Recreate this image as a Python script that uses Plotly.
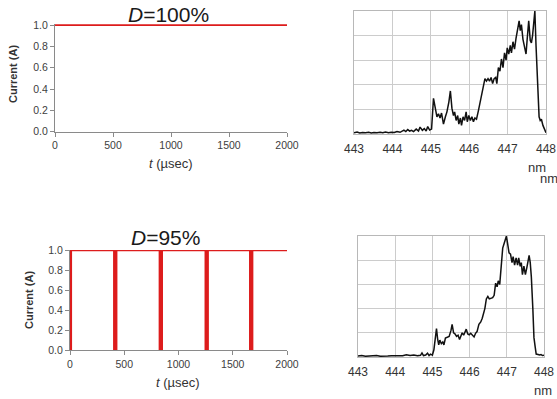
import plotly.graph_objects as go

W, H = 557, 399

# ---------------- data ----------------
# D = 100 % : constant current
t_full = [0, 2000]
i_full = [1.0, 1.0]

# D = 95 % : current switched off in short windows (µs)
off_start = [0, 408, 828, 1251, 1661]
off_end = [8, 426, 846, 1269, 1679]

# Spectra (nm, arbitrary intensity on 0..5 grid)
wl_top = [443.00, 443.08, 443.15, 443.22, 443.30, 443.38, 443.45, 443.52, 443.60, 443.68,
          443.75, 443.82, 443.90, 443.97, 444.05, 444.12, 444.20, 444.25, 444.30, 444.35,
          444.40, 444.45, 444.50, 444.55, 444.62, 444.68, 444.72, 444.78, 444.83, 444.88,
          444.92, 444.97, 445.02, 445.07, 445.12, 445.16, 445.20, 445.24, 445.28, 445.33,
          445.38, 445.42, 445.47, 445.51, 445.55, 445.59, 445.62, 445.66, 445.70, 445.73,
          445.77, 445.80, 445.84, 445.88, 445.92, 445.95, 445.99, 446.03, 446.07, 446.11,
          446.15, 446.19, 446.24, 446.30, 446.36, 446.41, 446.45, 446.49, 446.53, 446.57,
          446.61, 446.65, 446.69, 446.72, 446.76, 446.80, 446.84, 446.88, 446.92, 446.96,
          446.99, 447.03, 447.07, 447.10, 447.14, 447.18, 447.22, 447.26, 447.30, 447.33,
          447.36, 447.40, 447.44, 447.48, 447.51, 447.55, 447.59, 447.62, 447.65, 447.68,
          447.71, 447.74, 447.78, 447.82, 447.85, 447.88, 447.92, 447.96, 448.00]
int_top = [0.05, 0.08, 0.04, 0.06, 0.05, 0.07, 0.04, 0.06, 0.05, 0.07,
           0.05, 0.08, 0.05, 0.07, 0.06, 0.10, 0.07, 0.12, 0.16, 0.10,
           0.18, 0.12, 0.15, 0.10, 0.20, 0.12, 0.28, 0.15, 0.22, 0.12,
           0.30, 0.16, 0.20, 1.45, 0.95, 0.70, 0.82, 0.65, 0.85, 0.40,
           0.70, 0.90, 1.30, 1.75, 1.05, 0.75, 0.90, 0.55, 0.75, 0.40,
           0.65, 0.35, 0.70, 0.55, 0.90, 0.50, 0.75, 0.55, 0.70, 0.50,
           0.65, 0.60, 0.95, 1.40, 1.85, 2.25, 2.15, 2.25, 2.15, 2.30,
           2.05, 2.25, 2.30, 2.05, 2.70, 2.55, 3.05, 2.70, 3.30, 3.00,
           3.50, 3.25, 3.60, 3.30, 3.75, 3.45, 3.90, 4.30, 4.60, 4.20,
           4.45, 3.85, 3.50, 3.25, 3.85, 4.60, 3.80, 3.70, 4.00, 4.50,
           5.00, 3.60, 1.80, 0.70, 0.55, 0.60, 0.35, 0.20, 0.05]

wl_bot = [443.00, 443.10, 443.20, 443.30, 443.40, 443.50, 443.60, 443.70, 443.80, 443.90,
          444.00, 444.10, 444.20, 444.30, 444.40, 444.50, 444.60, 444.68, 444.72, 444.76,
          444.82, 444.87, 444.91, 444.95, 445.00, 445.04, 445.08, 445.11, 445.14, 445.17,
          445.20, 445.24, 445.28, 445.31, 445.35, 445.40, 445.45, 445.50, 445.53, 445.57,
          445.61, 445.65, 445.69, 445.73, 445.77, 445.80, 445.84, 445.88, 445.91, 445.95,
          445.99, 446.03, 446.07, 446.12, 446.16, 446.20, 446.25, 446.30, 446.34, 446.38,
          446.41, 446.45, 446.49, 446.53, 446.58, 446.62, 446.66, 446.70, 446.74, 446.77,
          446.81, 446.85, 446.89, 446.93, 446.97, 446.99, 447.03, 447.06, 447.10, 447.14,
          447.17, 447.21, 447.25, 447.29, 447.32, 447.36, 447.39, 447.42, 447.46, 447.50,
          447.54, 447.57, 447.60, 447.63, 447.66, 447.70, 447.73, 447.76, 447.79, 447.84,
          447.88, 447.92, 447.96, 448.00]
int_bot = [0.04, 0.06, 0.03, 0.05, 0.04, 0.06, 0.03, 0.05, 0.04, 0.05,
           0.04, 0.06, 0.05, 0.09, 0.06, 0.08, 0.05, 0.07, 0.17, 0.06,
           0.08, 0.16, 0.06, 0.12, 0.08, 0.30, 1.00, 1.17, 0.75, 0.50,
           0.70, 0.55, 0.62, 0.50, 0.78, 0.83, 0.85, 1.10, 1.35, 1.00,
           0.95, 0.85, 0.90, 0.72, 0.92, 1.00, 0.90, 1.05, 1.15, 0.95,
           0.92, 0.98, 0.92, 0.83, 0.98, 1.05, 1.35, 1.45, 1.60, 1.85,
           2.00, 2.40, 2.50, 2.40, 2.42, 2.45, 2.55, 3.05, 2.90, 3.15,
           3.00, 3.60, 4.50, 4.70, 4.85, 5.00, 4.60, 4.30, 4.25, 3.90,
           4.15, 3.80, 4.10, 3.80, 4.10, 3.75, 3.90, 3.40, 3.75, 3.40,
           3.70, 4.05, 4.20, 3.90, 3.30, 2.00, 0.80, 0.45, 0.12, 0.10,
           0.08, 0.10, 0.06, 0.07]

t_ticks = [0, 500, 1000, 1500, 2000]
i_ticks = [0.0, 0.2, 0.4, 0.6, 0.8, 1.0]
wl_ticks = [443, 444, 445, 446, 447, 448]

# build square wave from the off windows
t_pulse, i_pulse = [0], [1.0]
for s, e in zip(off_start, off_end):
    if s == 0:
        t_pulse, i_pulse = [0], [0.0]
    else:
        t_pulse += [s, s]
        i_pulse += [1.0, 0.0]
    t_pulse += [e, e]
    i_pulse += [0.0, 1.0]
t_pulse.append(2000)
i_pulse.append(1.0)

FONT = "Liberation Sans, Arial, sans-serif"
RED = "#dd1c1c"


def px(x):
    return x / W


def py(y):
    return 1 - y / H


fig = go.Figure()
fig.add_trace(go.Scatter(x=t_full, y=i_full, mode="lines", line=dict(color=RED, width=1.8),
                         xaxis="x", yaxis="y", showlegend=False))
fig.add_trace(go.Scatter(x=t_pulse, y=i_pulse, mode="lines", line=dict(color=RED, width=2.4),
                         xaxis="x2", yaxis="y2", showlegend=False))
fig.add_trace(go.Scatter(x=wl_top, y=int_top, mode="lines", line=dict(color="#111111", width=1.5),
                         xaxis="x3", yaxis="y3", showlegend=False))
fig.add_trace(go.Scatter(x=wl_bot, y=int_bot, mode="lines", line=dict(color="#111111", width=1.5),
                         xaxis="x4", yaxis="y4", showlegend=False))

cur_x = dict(range=[0, 2000], tickvals=t_ticks, ticks="outside", ticklen=4, tickcolor="#8a8a8a",
             showline=True, linecolor="#8a8a8a", linewidth=1, showgrid=False, zeroline=False,
             automargin=False, tickfont=dict(family=FONT, size=10.5, color="#404040"))
cur_y = dict(tickvals=i_ticks, tickformat=".1f", ticks="outside", ticklen=4,
             tickcolor="#8a8a8a", showline=True, linecolor="#8a8a8a", linewidth=1, showgrid=False,
             zeroline=False, automargin=False,
             tickfont=dict(family=FONT, size=10.5, color="#404040"))
sp_x = dict(range=[443, 448], tickvals=wl_ticks, ticks="outside", ticklen=4,
            tickcolor="rgba(0,0,0,0)", showline=True, mirror=True, linecolor="#b8b8b8",
            showgrid=True, gridcolor="#cccccc", zeroline=False, automargin=False,
            tickfont=dict(family=FONT, size=12, color="#333333"))
sp_y = dict(range=[0, 5], dtick=1, showticklabels=False, ticks="", showline=True, mirror=True,
            linecolor="#b8b8b8", showgrid=True, gridcolor="#cccccc", zeroline=False,
            automargin=False)

fig.update_layout(
    width=W, height=H, margin=dict(l=0, r=0, t=0, b=0),
    paper_bgcolor="white", plot_bgcolor="white",
    xaxis=dict(cur_x, domain=[px(55), px(287)], anchor="y"),
    yaxis=dict(cur_y, range=[0, 1.01], domain=[py(131.7), py(24)], anchor="x"),
    xaxis2=dict(cur_x, domain=[px(70), px(287)], anchor="y2"),
    yaxis2=dict(cur_y, range=[0, 1], domain=[py(350), py(250)], anchor="x2"),
    xaxis3=dict(sp_x, domain=[px(354), px(546)], anchor="y3"),
    yaxis3=dict(sp_y, domain=[py(134), py(11)], anchor="x3"),
    xaxis4=dict(sp_x, domain=[px(358), px(544)], anchor="y4"),
    yaxis4=dict(sp_y, domain=[py(357), py(236)], anchor="x4"),
)


def ann(text, x, y, size, bold=False, angle=0, color="#222222"):
    if bold:
        text = "<b>" + text + "</b>"
    fig.add_annotation(text=text, x=px(x), y=py(y), xref="paper", yref="paper",
                       showarrow=False, textangle=angle, xanchor="center", yanchor="middle",
                       font=dict(family=FONT, size=size, color=color))


ann("<i>D</i>=100%", 168, 14.5, 21, color="#1a1a1a")
ann("<i>D</i>=95%", 165, 237.5, 21, color="#1a1a1a")
ann("Current (A)", 13, 74, 11, bold=True, angle=-90, color="#333333")
ann("Current (A)", 29, 300, 11, bold=True, angle=-90, color="#333333")
ann("<i>t</i> (µsec)", 171, 163, 13, color="#333333")
ann("<i>t</i> (µsec)", 178, 382, 13, color="#333333")
ann("nm", 549, 178, 13, color="#333333")
ann("nm", 537, 167, 13, color="#333333")
ann("nm", 543, 390, 13, color="#333333")

fig.write_html("out.html")
